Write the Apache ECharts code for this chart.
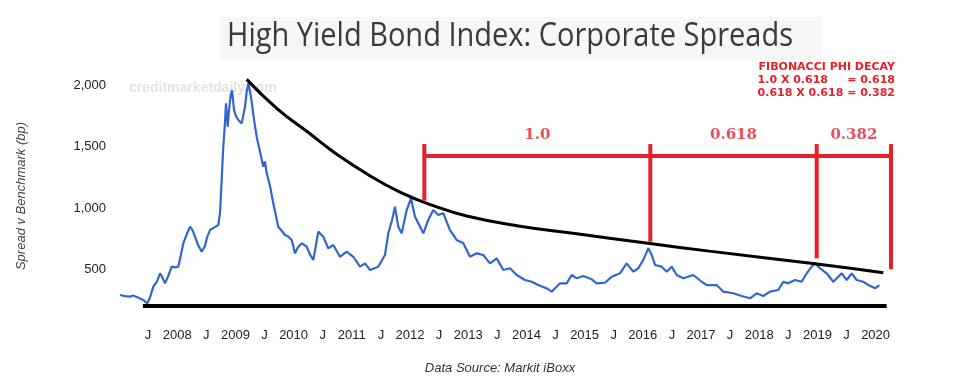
<!DOCTYPE html>
<html>
<head>
<meta charset="utf-8">
<script src="https://cdn.jsdelivr.net/npm/echarts@6/dist/echarts.min.js"></script>
<style>
  html, body { margin: 0; padding: 0; background: #ffffff; }
  #chart { width: 956px; height: 385px; }
</style>
</head>
<body>
<div id="chart"></div>
<script>
// ---- Data ----
const titleText = 'High Yield Bond Index: Corporate Spreads';
const yAxisTitle = 'Spread v Benchmark (bp)';
const sourceText = 'Data Source: Markit iBoxx';
const watermarkText = 'creditmarketdaily.com';
const fibLines = ['FIBONACCI PHI DECAY', '1.0 X 0.618     = 0.618', '0.618 X 0.618 = 0.382'];

// High yield spread series (decimal year, bp)
const spreadYears = [
  2007.017, 2007.103, 2007.189, 2007.241, 2007.326, 2007.418, 2007.486, 2007.533, 2007.589, 2007.653,
  2007.704, 2007.739, 2007.790, 2007.842, 2007.905, 2007.962, 2008.019, 2008.065, 2008.105, 2008.168,
  2008.220, 2008.263, 2008.306, 2008.357, 2008.421, 2008.478, 2008.512, 2008.564, 2008.632, 2008.706,
  2008.735, 2008.761, 2008.792, 2008.821, 2008.838, 2008.868, 2008.890, 2008.919, 2008.942, 2008.976,
  2009.010, 2009.050, 2009.108, 2009.165, 2009.194, 2009.222, 2009.251, 2009.280, 2009.320, 2009.366,
  2009.423, 2009.479, 2009.508, 2009.538, 2009.595, 2009.651, 2009.680, 2009.737, 2009.784, 2009.852,
  2009.904, 2009.967, 2010.024, 2010.076, 2010.139, 2010.225, 2010.282, 2010.339, 2010.385, 2010.424,
  2010.510, 2010.596, 2010.682, 2010.797, 2010.912, 2011.026, 2011.141, 2011.227, 2011.313, 2011.455,
  2011.570, 2011.627, 2011.691, 2011.742, 2011.799, 2011.857, 2011.943, 2012.017, 2012.086, 2012.143,
  2012.229, 2012.314, 2012.400, 2012.486, 2012.572, 2012.687, 2012.802, 2012.916, 2013.031, 2013.146,
  2013.259, 2013.375, 2013.490, 2013.603, 2013.718, 2013.833, 2013.976, 2014.091, 2014.204, 2014.349,
  2014.435, 2014.577, 2014.692, 2014.778, 2014.864, 2014.978, 2015.122, 2015.208, 2015.351, 2015.466,
  2015.608, 2015.723, 2015.837, 2015.923, 2016.009, 2016.095, 2016.153, 2016.210, 2016.325, 2016.411,
  2016.497, 2016.582, 2016.696, 2016.868, 2017.012, 2017.098, 2017.270, 2017.383, 2017.555, 2017.699,
  2017.842, 2017.957, 2018.070, 2018.186, 2018.328, 2018.414, 2018.500, 2018.615, 2018.730, 2018.816,
  2018.902, 2018.959, 2019.045, 2019.160, 2019.273, 2019.418, 2019.503, 2019.589, 2019.675, 2019.789,
  2019.875, 2019.990, 2020.064
];
const spreadValues = [
  290, 280, 276, 285, 270, 249, 222, 270, 358, 400,
  467, 440, 385, 440, 521, 515, 521, 620, 712, 790,
  847, 820, 766, 700, 643, 690, 760, 820, 840, 861,
  957, 1200, 1500, 1700, 1855, 1664, 1800, 1922, 1960, 1800,
  1750, 1718, 1691, 1827, 1950, 2018, 1950, 1868, 1720, 1582,
  1460, 1337, 1380, 1283, 1180, 1038, 1040, 847, 820, 780,
  770, 739, 630, 680, 712, 684, 620, 576, 700, 807,
  766, 671, 698, 602, 643, 602, 521, 548, 494, 521,
  616, 793, 900, 1010, 847, 793, 983, 1079, 929, 875,
  793, 902, 983, 943, 957, 820, 739, 712, 602, 630,
  616, 548, 589, 494, 508, 453, 412, 398, 371, 344,
  317, 385, 385, 453, 426, 445, 418, 385, 390, 439,
  467, 548, 480, 508, 576, 671, 616, 535, 521, 480,
  521, 453, 426, 453, 398, 371, 371, 317, 304, 282,
  263, 304, 282, 317, 331, 398, 385, 412, 398, 467,
  521, 548, 508, 467, 398, 467, 412, 467, 412, 398,
  371, 344, 371
];

// Hand-drawn decay curve (black)
const decayYears  = [2009.194, 2009.710, 2010.270, 2010.682, 2011.256, 2011.828, 2012.400, 2012.974, 2013.861, 2014.864, 2016.124, 2017.143, 2018.959, 2020.132];
const decayValues = [2050, 1814, 1610, 1460, 1280, 1130, 1020, 935, 853, 790, 710, 648, 545, 472];

// Horizontal floor line (black)
const floorYears = [2007.41, 2020.19];
const floorValue = 200;

// Fibonacci bracket (red)
const bracketYears   = [2012.246, 2016.129, 2018.988, 2020.265];
const bracketTop     = 1522;
const bracketLevel   = 1424;
const bracketBottoms = [1060, 725, 589, 500];
const bracketLabels  = ['1.0', '0.618', '0.382'];
const bracketLabelValue = 1596;

// Axis ticks
const xMin = 2007, xMax = 2020.5, xStep = 0.5;
const yMin = 0, yMax = 2200, yStep = 500;

// ---- Chart ----
const RED = '#e8202a';
const chart = echarts.init(document.getElementById('chart'), null, { renderer: 'canvas' });

// Title compression to match the narrow title face
const mctx = document.createElement('canvas').getContext('2d');
mctx.font = '32px "Open Sans"';
const titleW = mctx.measureText(titleText).width || 566;
const titleScale = 566 / titleW;

const series = [];
series.push({
  type: 'line', name: 'floor', silent: true, clip: false, showSymbol: false, z: 3,
  data: floorYears.map(y => [y, floorValue]),
  lineStyle: { color: '#000', width: 4, cap: 'butt' }
});
series.push({
  type: 'line', name: 'spread', clip: false, showSymbol: false, z: 4,
  data: spreadYears.map((y, i) => [y, spreadValues[i]]),
  lineStyle: { color: '#3366cc', width: 2.2 }
});
series.push({
  type: 'line', name: 'decay', silent: true, clip: false, showSymbol: false, smooth: 0.5, z: 5,
  data: decayYears.map((y, i) => [y, decayValues[i]]),
  lineStyle: { color: '#000', width: 3 }
});
bracketYears.forEach((y, i) => {
  series.push({
    type: 'line', silent: true, clip: false, showSymbol: false, z: 6,
    data: [[y, bracketTop], [y, bracketBottoms[i]]],
    lineStyle: { color: RED, width: 4, cap: 'butt' }
  });
});
series.push({
  type: 'line', silent: true, clip: false, showSymbol: false, z: 6,
  data: [[bracketYears[0], bracketLevel], [bracketYears[bracketYears.length - 1], bracketLevel]],
  lineStyle: { color: RED, width: 4, cap: 'butt' }
});
series.push({
  type: 'scatter', silent: true, clip: false, z: 7, symbolSize: 1,
  itemStyle: { color: 'rgba(0,0,0,0)' },
  data: bracketLabels.map((t, i) => ({ name: t, value: [(bracketYears[i] + bracketYears[i + 1]) / 2, bracketLabelValue] })),
  label: {
    show: true, position: 'inside', formatter: '{b}',
    color: RED, fontFamily: '"DejaVu Serif", serif', fontWeight: 'bold', fontSize: 15
  }
});

const option = {
  animation: false,
  backgroundColor: '#ffffff',
  grid: { left: 119, right: 51.3, top: 61, bottom: 54.5, containLabel: false },
  xAxis: {
    type: 'value', min: xMin, max: xMax, interval: xStep,
    axisLine: { show: false }, axisTick: { show: false }, splitLine: { show: false },
    axisLabel: {
      showMinLabel: false, showMaxLabel: false, margin: 5,
      verticalAlign: 'middle', lineHeight: 13,
      color: '#222', fontFamily: '"Liberation Sans", Arial, sans-serif', fontSize: 13,
      formatter: v => (Math.abs(v - Math.round(v)) < 1e-6 ? String(Math.round(v)) : 'J')
    }
  },
  yAxis: {
    type: 'value', min: yMin, max: yMax, interval: yStep,
    axisLine: { show: false }, axisTick: { show: false }, splitLine: { show: false },
    axisLabel: {
      showMinLabel: false, showMaxLabel: false, margin: 13,
      color: '#222', fontFamily: '"Liberation Sans", Arial, sans-serif', fontSize: 13,
      formatter: v => v.toLocaleString('en-US')
    }
  },
  graphic: [
    { type: 'rect', silent: true, z: 0, shape: { x: 220, y: 17, width: 602, height: 43 }, style: { fill: '#f7f7f7' } },
    { type: 'text', silent: true, z: 1, x: 510, y: 37, scaleX: titleScale,
      style: { text: titleText, textAlign: 'center', textVerticalAlign: 'middle', fill: '#3a3a3a',
               font: '32px "Open Sans", sans-serif' } },
    { type: 'text', silent: true, z: 1, x: 129, y: 88,
      style: { text: watermarkText, textAlign: 'left', textVerticalAlign: 'middle', fill: '#e3e3e3',
               font: 'bold 14px "Liberation Sans", Arial, sans-serif' } },
    { type: 'text', silent: true, z: 1, x: 21, y: 196, rotation: Math.PI / 2,
      style: { text: yAxisTitle, textAlign: 'center', textVerticalAlign: 'middle', fill: '#444',
               font: 'italic 13px "Liberation Sans", Arial, sans-serif' } },
    { type: 'text', silent: true, z: 1, x: 500, y: 368,
      style: { text: sourceText, textAlign: 'center', textVerticalAlign: 'middle', fill: '#333',
               font: 'italic 13px "Liberation Sans", Arial, sans-serif' } },
    ...fibLines.map((t, i) => ({
      type: 'text', silent: true, z: 8, x: 895, y: 67.3 + i * 12.7,
      style: { text: t, textAlign: 'right', textVerticalAlign: 'middle', fill: RED,
               font: 'bold 11px "DejaVu Sans", Verdana, sans-serif' }
    }))
  ],
  series: series
};
chart.setOption(option);
</script>
</body>
</html>
